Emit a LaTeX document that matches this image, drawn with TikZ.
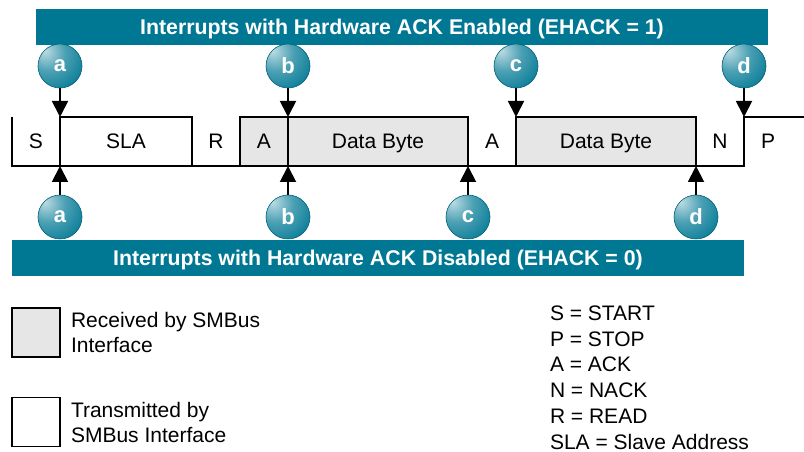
\documentclass[tikz,border=0pt]{standalone}
\usepackage{fontspec}
\setmainfont{Liberation Sans}
\usetikzlibrary{positioning, arrows.meta}

\definecolor{ehteal}{RGB}{0,120,148}
\definecolor{rxgray}{RGB}{230,230,230}
\pgfdeclareradialshading{tealball}{\pgfpoint{-18bp}{18bp}}{color(0bp)=(ehteal!25); color(20bp)=(ehteal!70); color(45bp)=(ehteal); color(100bp)=(ehteal)}

\begin{document}
\begin{tikzpicture}[
    x=1pt, y=1pt,
    line width=1.9pt,
    >={Triangle[width=16pt,length=16pt]},
    every node/.style={font=\fontsize{21}{25}\selectfont, inner sep=0pt, outer sep=0pt},
    cell/.style={minimum height=49pt, text height=15pt, text depth=0pt},
    rx/.style={cell, fill=rxgray},
    banner/.style={fill=ehteal, text=white, font=\fontsize{21.3}{25}\selectfont\bfseries,
        minimum height=36pt, minimum width=732pt, text height=15pt, text depth=0pt},
    tag/.style={circle, shading=tealball, draw=ehteal!80!black, line width=0.6pt,
        minimum size=44pt, text=white, font=\fontsize{22}{25}\selectfont\bfseries},
    keybox/.style={draw, minimum width=48pt, minimum height=49pt}
]
\useasboundingbox (0,0) rectangle (804,452);

% Frame cells
\node[cell, minimum width=48pt] (s) at (36,310.5) {S};
\node[cell, minimum width=132pt, right=0pt of s] (sla) {SLA};
\node[cell, minimum width=48pt, right=0pt of sla] (r) {R};
\node[rx, minimum width=48pt, right=0pt of r] (ack1) {A};
\node[rx, minimum width=180pt, right=0pt of ack1] (byte1) {Data Byte};
\node[cell, minimum width=48pt, right=0pt of byte1] (ack2) {A};
\node[rx, minimum width=180pt, right=0pt of ack2] (byte2) {Data Byte};
\node[cell, minimum width=48pt, right=0pt of byte2] (nack) {N};
\node[cell, minimum width=48pt, right=0pt of nack] (p) {P};

% Frame lines
\draw (s.north west) -- (s.south west) -- (nack.south east) -- (nack.north east)
    -- ([xshift=12pt]p.north east);
\draw (sla.south west) rectangle (sla.north east);
\draw (ack1.south west) rectangle (byte1.north east);
\draw (ack1.north east) -- (ack1.south east);
\draw (byte2.south west) rectangle (byte2.north east);

% Banners
\node[banner] (enbar) at (402,425) {Interrupts with Hardware ACK Enabled (EHACK = 1)};
\node[banner] (disbar) at (378,194) {Interrupts with Hardware ACK Disabled (EHACK = 0)};

% Interrupt points, EHACK = 1
\node[tag, above=29pt of sla.north west] (ta) {a};
\node[tag, above=29pt of byte1.north west] (tb) {b};
\node[tag, above=29pt of byte2.north west] (tc) {c};
\node[tag, above=29pt of nack.north east] (td) {d};
\draw[->] (ta) -- (sla.north west);
\draw[->] (tb) -- (byte1.north west);
\draw[->] (tc) -- (byte2.north west);
\draw[->] (td) -- (nack.north east);

% Interrupt points, EHACK = 0
\node[tag, below=29pt of sla.south west] (ba) {a};
\node[tag, below=29pt of byte1.south west] (bb) {b};
\node[tag, below=29pt of byte1.south east] (bc) {c};
\node[tag, below=29pt of byte2.south east] (bd) {d};
\draw[->] (ba) -- (sla.south west);
\draw[->] (bb) -- (byte1.south west);
\draw[->] (bc) -- (byte1.south east);
\draw[->] (bd) -- (byte2.south east);

% Legend
\node[keybox, fill=rxgray] (rxkey) at (36,119.5) {};
\node[right=11pt of rxkey, align=left] (rxtext) {Received by SMBus\\Interface};
\node[keybox] (txkey) at (36,30) {};
\node[right=11pt of txkey, align=left] (txtext) {Transmitted by\\SMBus Interface};
\node[anchor=west, align=left, font=\fontsize{21}{25.8}\selectfont] (abbrev) at (550,74.5)
    {S = START\\P = STOP\\A = ACK\\N = NACK\\R = READ\\SLA = Slave Address};

\end{tikzpicture}
\end{document}
